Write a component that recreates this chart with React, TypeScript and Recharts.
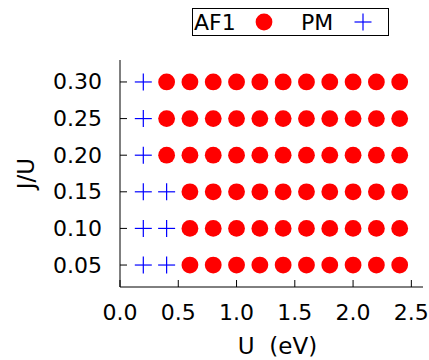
import React from 'react';
import { ScatterChart, Scatter, XAxis, YAxis, Legend } from 'recharts';

const FONT = '"DejaVu Sans", Arial, Helvetica, sans-serif';

const uValues = [0.2, 0.4, 0.6, 0.8, 1.0, 1.2, 1.4, 1.6, 1.8, 2.0, 2.2, 2.4];
const jValues = [0.05, 0.1, 0.15, 0.2, 0.25, 0.3];
// largest U that is still PM, one per J/U row
const pmMaxU = [0.4, 0.4, 0.4, 0.2, 0.2, 0.2];
const uTicks = [0, 0.5, 1.0, 1.5, 2.0, 2.5];
const jTicks = [0.05, 0.1, 0.15, 0.2, 0.25, 0.3];

type Pt = { u: number; j: number };
const pmPoints: Pt[] = [];
const af1Points: Pt[] = [];
jValues.forEach((j, i) => {
  uValues.forEach((u) => {
    if (u <= pmMaxU[i] + 1e-9) pmPoints.push({ u, j });
    else af1Points.push({ u, j });
  });
});

const TICK = 7;
const Y_MARGIN = 18;
const X_MARGIN = 18;

const DotShape = (props: any) => <circle cx={props.cx} cy={props.cy} r={8.4} fill="#ff0000" />;

const PlusShape = (props: any) => {
  const { cx, cy } = props;
  const h = 8.5;
  return (
    <g stroke="#0000ff" strokeWidth={1.2}>
      <line x1={cx - h} y1={cy} x2={cx + h} y2={cy} />
      <line x1={cx} y1={cy - h} x2={cx} y2={cy + h} />
    </g>
  );
};

const LeftTick = (props: any) => {
  const { x, y, payload } = props;
  return (
    <g>
      <line x1={x + Y_MARGIN} y1={y} x2={x + Y_MARGIN + TICK} y2={y} stroke="#000" />
      <text x={x} y={y} textAnchor="end" dominantBaseline="central" fontSize={22} fontFamily={FONT} fill="#000">
        {Number(payload.value).toFixed(2)}
      </text>
    </g>
  );
};

const BottomTick = (props: any) => {
  const { x, y, payload } = props;
  return (
    <g>
      <line x1={x} y1={y - X_MARGIN} x2={x} y2={y - X_MARGIN - TICK} stroke="#000" />
      <text x={x} y={y + 7} textAnchor="middle" dominantBaseline="central" fontSize={22} fontFamily={FONT} fill="#000">
        {Number(payload.value).toFixed(1)}
      </text>
    </g>
  );
};

const TopTick = (props: any) => {
  const { x, y } = props;
  return <line x1={x} y1={y} x2={x} y2={y + TICK} stroke="#000" />;
};

const RightTick = (props: any) => {
  const { x, y } = props;
  return <line x1={x} y1={y} x2={x - TICK} y2={y} stroke="#000" />;
};

const LegendBox = (props: any) => {
  const payload = props.payload || [];
  const names = payload.map((p: any) => p.value);
  return (
    <svg width={198} height={29} style={{ display: 'block' }}>
      <rect x={0.5} y={0.5} width={196} height={27} fill="#fff" stroke="#000" />
      <text x={2} y={22} fontSize={22} fontFamily={FONT} fill="#000">{names[0]}</text>
      <circle cx={72} cy={14} r={8.4} fill="#ff0000" />
      <text x={109} y={22} fontSize={22} fontFamily={FONT} fill="#000">{names[1]}</text>
      <g stroke="#0000ff" strokeWidth={1.2}>
        <line x1={162.5} y1={14} x2={179.5} y2={14} />
        <line x1={171} y1={5.5} x2={171} y2={22.5} />
      </g>
    </svg>
  );
};

export default function App() {
  return (
    <div style={{ position: 'absolute', left: 0, top: 0 }}>
      <ScatterChart width={429} height={360} margin={{ top: 60, right: 6, bottom: 0, left: 0 }}>
        <XAxis
          xAxisId="b"
          dataKey="u"
          type="number"
          domain={[0, 2.6]}
          ticks={uTicks}
          height={73}
          tickSize={0}
          tickMargin={X_MARGIN}
          tick={<BottomTick />}
          axisLine={{ stroke: '#000' }}
          label={{
            content: (p: any) => {
              const vb = p.viewBox;
              return (
                <text
                  x={vb.x + vb.width / 2 + 6}
                  y={vb.y + 59}
                  textAnchor="middle"
                  dominantBaseline="central"
                  fontSize={23}
                  fontFamily={FONT}
                  style={{ whiteSpace: 'pre' }}
                >
                  {'U  (eV)'}
                </text>
              );
            },
          }}
        />
        <XAxis
          xAxisId="t"
          orientation="top"
          type="number"
          domain={[0, 2.6]}
          ticks={uTicks}
          height={0}
          tickSize={0}
          tickMargin={0}
          tick={<TopTick />}
          axisLine={{ stroke: '#000' }}
        />
        <YAxis
          yAxisId="l"
          dataKey="j"
          type="number"
          domain={[0.02, 0.33]}
          ticks={jTicks}
          width={120}
          tickSize={0}
          tickMargin={Y_MARGIN}
          tick={<LeftTick />}
          axisLine={{ stroke: '#000' }}
          label={{
            content: (p: any) => {
              const vb = p.viewBox;
              const cx = vb.x + 26;
              const cy = vb.y + vb.height / 2;
              return (
                <text
                  x={cx}
                  y={cy}
                  transform={`rotate(-90, ${cx}, ${cy})`}
                  textAnchor="middle"
                  dominantBaseline="central"
                  fontSize={23}
                  fontFamily={FONT}
                >
                  J/U
                </text>
              );
            },
          }}
        />
        <YAxis
          yAxisId="r"
          orientation="right"
          type="number"
          domain={[0.02, 0.33]}
          ticks={jTicks}
          width={0}
          tickSize={0}
          tickMargin={0}
          tick={<RightTick />}
          axisLine={{ stroke: '#000' }}
        />
        <Legend
          layout="horizontal"
          verticalAlign="middle"
          align="center"
          wrapperStyle={{ left: 192, top: 8, width: 'auto' }}
          content={<LegendBox />}
        />
        <Scatter
          name="AF1"
          data={af1Points}
          xAxisId="b"
          yAxisId="l"
          fill="#ff0000"
          shape={<DotShape />}
          isAnimationActive={false}
        />
        <Scatter
          name="PM"
          data={pmPoints}
          xAxisId="b"
          yAxisId="l"
          fill="#0000ff"
          shape={<PlusShape />}
          isAnimationActive={false}
        />
      </ScatterChart>
    </div>
  );
}
